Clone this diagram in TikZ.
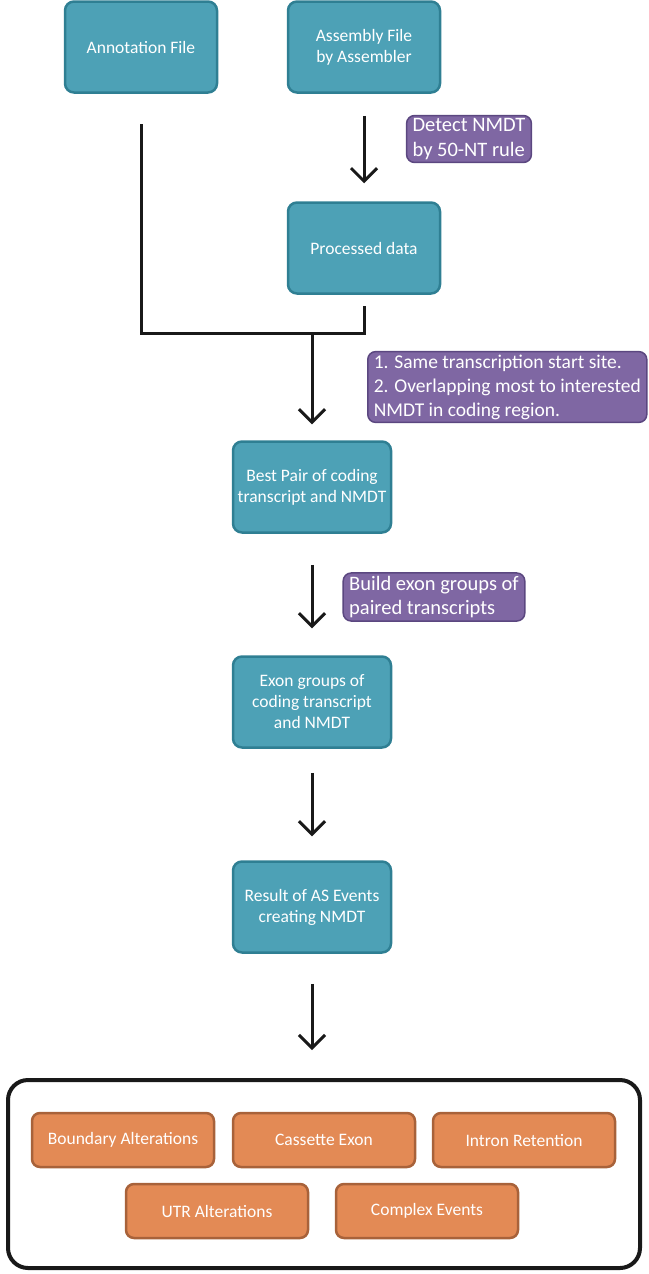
\documentclass[tikz,border=0pt]{standalone}
\usepackage{fontspec}
\setmainfont{Carlito}
\usetikzlibrary{arrows.meta}
\definecolor{tealfill}{HTML}{4DA1B6}
\definecolor{tealline}{HTML}{2F7F93}
\definecolor{purfill}{HTML}{7F67A3}
\definecolor{purline}{HTML}{5B4780}
\definecolor{orfill}{HTML}{E38A55}
\definecolor{orline}{HTML}{A8623A}
\tikzset{
  stepbox/.style  = {draw=tealline, line width=2.5pt, fill=tealfill, rounded corners=9pt,
                     text=white, align=center, font=\fontsize{17.5}{21}\selectfont,
                     minimum width=152pt, minimum height=91pt, inner sep=2pt},
  notebox/.style  = {draw=purline, line width=1.5pt, fill=purfill, rounded corners=8pt,
                     text=white, align=left, font=\fontsize{20.5}{24.5}\selectfont,
                     inner xsep=6pt, inner ysep=3pt},
  eventbox/.style = {draw=orline, line width=2.5pt, fill=orfill, rounded corners=8pt,
                     text=white, align=center, font=\fontsize{17.5}{21}\selectfont,
                     minimum width=182pt, minimum height=54pt, inner sep=2pt},
  flow/.style     = {-{Straight Barb[length=13pt,width=26pt,line width=3pt]}, line width=3pt, black!90},
  link/.style     = {line width=3pt, black!90, line cap=rect}
}

\begin{document}
\begin{tikzpicture}[x=1pt,y=-1pt]
  \useasboundingbox (0,0) rectangle (648,1274);
  % input files
  \node[stepbox] (ann)  at (141,47)  {Annotation File};
  \node[stepbox] (asm)  at (364,47)  {Assembly File\\by Assembler};
  \node[stepbox] (proc) at (364,248) {Processed data};
  \node[stepbox, minimum width=158pt] (pair)  at (312,487) {Best Pair of coding\\transcript and NMDT};
  \node[stepbox, minimum width=158pt] (group) at (312,702) {Exon groups of\\coding transcript\\and NMDT};
  \node[stepbox, minimum width=158pt] (res)   at (312,907) {Result of AS Events\\creating NMDT};
  % notes
  \node[notebox] (n1) at (469,139) {Detect NMDT\\by 50-NT rule};
  \node[notebox, anchor=west, font=\fontsize{19.5}{24}\selectfont] (n2) at (367,387)
       {1. Same transcription start site.\\2. Overlapping most to interested\\NMDT in coding region.};
  \node[notebox] (n3) at (434,597) {Build exon groups of\\paired transcripts};
  % connectors
  \coordinate (join) at (312,333);
  \draw[flow] ([yshift=-22pt]asm.south) -- ([yshift=18pt]proc.north);
  \draw[link] ([yshift=-32pt]ann.south) |- (join) -| ([yshift=-13pt]proc.south);
  \draw[flow] (join) -- ([yshift=16pt]pair.north);
  \draw[flow] ([yshift=-31pt]pair.south) -- ([yshift=27pt]group.north);
  \draw[flow] ([yshift=-24pt]group.south) -- ([yshift=24pt]res.north);
  % events
  \node[draw=black!90, line width=4pt, rounded corners=20pt,
        minimum width=632pt, minimum height=188pt] (events) at (324,1174) {};
  \coordinate (evtop) at (312,1050);
  \draw[flow] ([yshift=-30pt]res.south) -- (evtop);
  \node[eventbox] (bnd) at (123,1140) {Boundary Alterations};
  \node[eventbox] (cas) at (324,1140) {Cassette Exon};
  \node[eventbox] (ret) at (524,1140) {Intron Retention};
  \node[eventbox] (utr) at (217,1211) {UTR Alterations};
  \node[eventbox] (cpx) at (427,1211) {Complex Events};
\end{tikzpicture}
\end{document}
